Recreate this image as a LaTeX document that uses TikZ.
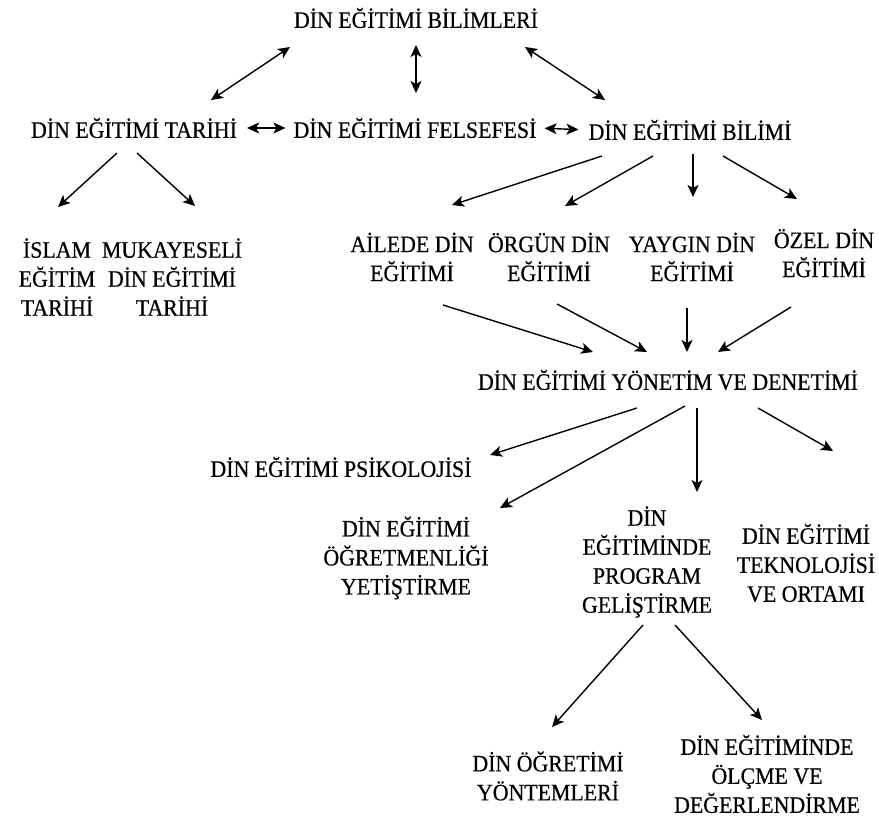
\documentclass[tikz,border=0pt]{standalone}
\usepackage{fontspec}
\setmainfont{Liberation Serif}[FakeStretch=0.93,FakeBold=0.5]
\usetikzlibrary{arrows.meta}
\tikzset{
	konu/.style = {align=center, inner sep=0pt, text centered,
		font=\fontsize{23.5}{29}\selectfont},% konu adi
	uc/.tip = {Stealth[length=12pt,width=11pt,inset=3pt]},% ok ucu
	ok/.style = {-uc, line width=1.4pt},% tek yonlu ok
	cift/.style = {uc-uc, line width=1.4pt}% cift yonlu ok
}

\begin{document}
\begin{tikzpicture}[x=1pt,y=-1pt]
	\useasboundingbox (0,0) rectangle (879,818);
	% ust sira
	\node[konu] (baslik) at (416,18) {DİN EĞİTİMİ BİLİMLERİ};
	\node[konu] (tarihi) at (134,128) {DİN EĞİTİMİ TARİHİ};
	\node[konu] (felsefe) at (415,128) {DİN EĞİTİMİ FELSEFESİ};
	\node[konu] (bilimi) at (690,130) {DİN EĞİTİMİ BİLİMİ};
	% tarih dallari
	\node[konu] (islam) at (57,277) {İSLAM\\EĞİTİM\\TARİHİ};
	\node[konu] (mukayese) at (172,277) {MUKAYESELİ\\DİN EĞİTİMİ\\TARİHİ};
	% bilim dallari
	\node[konu] (ailede) at (412,257) {AİLEDE DİN\\EĞİTİMİ};
	\node[konu] (orgun) at (549,257) {ÖRGÜN DİN\\EĞİTİMİ};
	\node[konu] (yaygin) at (692,257) {YAYGIN DİN\\EĞİTİMİ};
	\node[konu] (ozel) at (824,253) {ÖZEL DİN\\EĞİTİMİ};
	\node[konu] (yonetim) at (668,380) {DİN EĞİTİMİ YÖNETİM VE DENETİMİ};
	\node[konu] (psiko) at (341,467) {DİN EĞİTİMİ PSİKOLOJİSİ};
	\node[konu] (ogretmen) at (406,558) {DİN EĞİTİMİ\\ÖĞRETMENLİĞİ\\YETİŞTİRME};
	\node[konu] (program) at (647,562) {DİN\\EĞİTİMİNDE\\PROGRAM\\GELİŞTİRME};
	\node[konu] (tekno) at (806,563) {DİN EĞİTİMİ\\TEKNOLOJİSİ\\VE ORTAMI};
	\node[konu] (ogretim) at (548,776) {DİN ÖĞRETİMİ\\YÖNTEMLERİ};
	\node[konu] (olcme) at (767,774) {DİN EĞİTİMİNDE\\ÖLÇME VE\\DEĞERLENDİRME};

	\draw[cift] ([shift={(-126,29)}]baslik.center) -- ([shift={(77,-28)}]tarihi.center);
	\draw[cift] ([shift={(0,27)}]baslik.center) -- ([shift={(1,-35)}]felsefe.center);
	\draw[cift] ([shift={(109,29)}]baslik.center) -- ([shift={(-85,-30)}]bilimi.center);
	\draw[cift, shorten <=10pt, shorten >=8pt] (tarihi.east) -- (felsefe.west);
	\draw[cift, shorten <=8pt, shorten >=10pt] (felsefe.east) -- (bilimi.west);

	\draw[ok] ([shift={(-17,25)}]tarihi.center) -- ([shift={(1,-70)}]islam.center);
	\draw[ok] ([shift={(3,25)}]tarihi.center) -- ([shift={(23,-71)}]mukayese.center);

	\draw[ok] ([shift={(-88,26)}]bilimi.center) -- ([shift={(40,-52)}]ailede.center);
	\draw[ok] ([shift={(-37,26)}]bilimi.center) -- ([shift={(16,-51)}]orgun.center);
	\draw[ok] ([shift={(3,24)}]bilimi.center) -- ([shift={(1,-60)}]yaygin.center);
	\draw[ok] ([shift={(33,26)}]bilimi.center) -- ([shift={(-27,-54)}]ozel.center);

	\draw[ok] ([shift={(31,48)}]ailede.center) -- ([shift={(-75,-28)}]yonetim.center);
	\draw[ok] ([shift={(8,47)}]orgun.center) -- ([shift={(-21,-28)}]yonetim.center);
	\draw[ok] ([shift={(-5,51)}]yaygin.center) -- ([shift={(19,-28)}]yonetim.center);
	\draw[ok] ([shift={(-33,54)}]ozel.center) -- ([shift={(50,-28)}]yonetim.center);

	\draw[ok] ([shift={(-31,28)}]yonetim.center) -- ([shift={(149,-12)}]psiko.center);
	\draw[ok] ([shift={(17,26)}]yonetim.center) -- ([shift={(94,-50)}]ogretmen.center);
	\draw[ok] ([shift={(29,28)}]yonetim.center) -- ([shift={(50,-70)}]program.center);
	\draw[ok] ([shift={(90,28)}]yonetim.center) -- ([shift={(27,-112)}]tekno.center);

	\draw[ok] ([shift={(-4,63)}]program.center) -- ([shift={(4,-49)}]ogretim.center);
	\draw[ok] ([shift={(28,63)}]program.center) -- ([shift={(-5,-54)}]olcme.center);
\end{tikzpicture}
\end{document}
